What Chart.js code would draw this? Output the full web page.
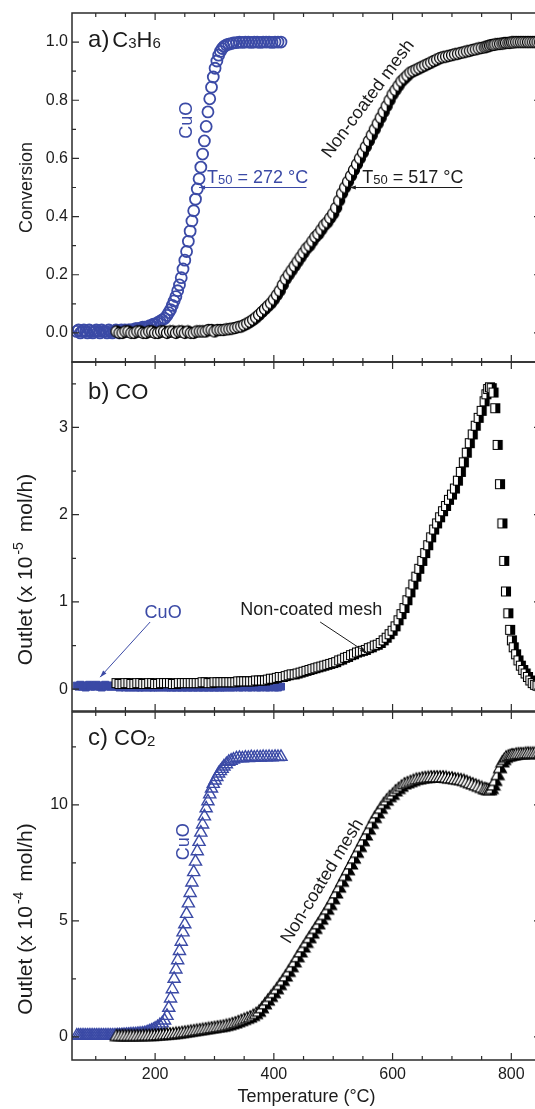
<!DOCTYPE html>
<html><head><meta charset="utf-8">
<script src="https://cdn.jsdelivr.net/npm/chart.js@4.4.1/dist/chart.umd.min.js"></script>
<style>
html,body{margin:0;padding:0;background:#fff;overflow:hidden;width:535px;height:1109px;position:relative;}
canvas{position:absolute;left:0;}
</style></head><body>
<canvas id="ca" width="560" height="395" style="top:-10px"></canvas>
<canvas id="cb" width="560" height="395" style="top:339px"></canvas>
<canvas id="cc" width="560" height="420" style="top:689px"></canvas>
<script>
// ---------- data ----------
const tempCuO = [
 68,71,74,77,80,83,86,89,92,95,
 98,101,104,107,110,113,116,119,122,125,
 128,131,134,137,140,143,146,149,152,155,
 158,161,164,167,170,173,176,179,182,185,
 188,191,194,197,200,204,208,212,216,220,
 223,226,229,232,235,238,241,244,247,250,
 253,256,259,262,265,268,271,274,277,280,
 283,286,289,292,295,298,301,304,307,310,
 313,316,320,324,328,332,337,342,347,352,
 357,362,367,372,377,382,387,392,397,402,
 407,412];
const tempMesh = [
 135,140,145,150,155,160,165,170,175,180,
 185,190,195,200,205,210,215,220,225,230,
 235,240,245,250,255,260,265,270,275,280,
 285,290,295,300,305,310,315,320,325,330,
 335,340,345,350,355,360,365,370,375,380,
 385,390,395,400,405,410,415,420,425,430,
 435,440,445,450,455,460,465,470,475,480,
 485,490,495,500,505,510,515,520,525,530,
 535,540,545,550,555,560,565,570,575,580,
 585,590,595,600,605,610,615,620,625,630,
 635,640,645,650,655,660,665,670,675,680,
 685,690,695,700,705,710,715,720,725,730,
 735,740,745,750,755,758,761,764,767,770,
 773,777,781,785,788,791,795,798,801,804,
 808,812,816,820,824,828,832,836,840,844,
 848];
// a) C3H6 conversion
const convCuO = [
 0.005,0.01,0,0.005,0.01,0.005,0,0.01,0.005,0,
 0.005,0.01,0.005,0,0.01,0.005,0.005,0,0.01,0.005,
 0,0.005,0.01,0.005,0,0.01,0.005,0.01,0.005,0.01,
 0.01,0.01,0.01,0.015,0.015,0.015,0.015,0.02,0.02,0.02,
 0.02,0.025,0.025,0.03,0.03,0.035,0.04,0.045,0.05,0.06,
 0.07,0.08,0.095,0.11,0.125,0.145,0.165,0.19,0.22,0.25,
 0.28,0.315,0.35,0.385,0.42,0.46,0.495,0.53,0.57,0.615,
 0.66,0.71,0.76,0.805,0.845,0.88,0.91,0.935,0.955,0.968,
 0.978,0.985,0.99,0.993,0.995,0.997,0.998,1.0,0.999,1.0,
 1.0,0.999,1.0,1.0,0.999,1.0,1.0,1.0,0.999,1.0,
 1.0,1.0];
const convMesh = [
 0.005,0,0,0.005,0.005,0,0,0.005,0.005,0,
 0,0.005,0.005,0,0,0.005,0.005,0,0.005,0.005,
 0,0.005,0.005,0,0.005,0,0,0.005,0.005,0.005,
 0.005,0.01,0.01,0.005,0.01,0.01,0.01,0.012,0.013,0.015,
 0.017,0.02,0.022,0.027,0.032,0.038,0.045,0.053,0.062,0.072,
 0.082,0.092,0.102,0.115,0.13,0.145,0.165,0.185,0.2,0.215,
 0.23,0.245,0.26,0.275,0.29,0.3,0.315,0.33,0.34,0.355,
 0.37,0.38,0.395,0.41,0.43,0.455,0.48,0.5,0.52,0.54,
 0.56,0.58,0.6,0.62,0.64,0.66,0.68,0.7,0.72,0.74,
 0.76,0.78,0.8,0.82,0.835,0.85,0.865,0.875,0.885,0.895,
 0.9,0.905,0.91,0.915,0.92,0.925,0.93,0.935,0.94,0.945,
 0.948,0.95,0.953,0.955,0.958,0.96,0.963,0.965,0.968,0.97,
 0.973,0.975,0.978,0.98,0.982,0.984,0.986,0.988,0.99,0.99,
 0.992,0.993,0.994,0.995,0.996,0.997,0.997,0.998,0.999,0.999,
 1.0,1.0,1.0,1.0,1.0,1.0,1.0,1.0,1.0,1.0,
 1.0];
// b) CO outlet (x 10^-5 mol/h)
const coCuO = [
 0.04,0.03,0.05,0.03,0.04,0.02,0.04,0.05,0.03,0.04,
 0.03,0.05,0.04,0.03,0.02,0.04,0.05,0.03,0.04,0.03,
 0.04,0.03,0.05,0.03,0.02,0.03,0.03,0.02,0.03,0.02,
 0.03,0.02,0.03,0.02,0.03,0.02,0.02,0.03,0.02,0.03,
 0.02,0.03,0.02,0.02,0.03,0.02,0.02,0.03,0.02,0.02,
 0.03,0.02,0.02,0.03,0.02,0.02,0.03,0.02,0.02,0.03,
 0.02,0.02,0.03,0.02,0.02,0.03,0.02,0.02,0.03,0.02,
 0.02,0.03,0.02,0.02,0.03,0.02,0.02,0.03,0.02,0.02,
 0.03,0.02,0.02,0.03,0.02,0.02,0.03,0.02,0.02,0.03,
 0.02,0.02,0.03,0.02,0.02,0.03,0.02,0.02,0.03,0.02,
 0.02,0.03];
const coMesh = [
 0.07,0.06,0.06,0.07,0.07,0.06,0.06,0.07,0.07,0.06,
 0.06,0.07,0.07,0.06,0.06,0.07,0.07,0.07,0.07,0.06,
 0.06,0.07,0.07,0.07,0.07,0.07,0.07,0.07,0.07,0.08,
 0.08,0.07,0.07,0.08,0.08,0.08,0.08,0.08,0.08,0.08,
 0.08,0.09,0.09,0.09,0.09,0.09,0.09,0.1,0.1,0.1,
 0.1,0.11,0.12,0.12,0.13,0.14,0.14,0.15,0.16,0.17,
 0.17,0.18,0.19,0.2,0.21,0.22,0.23,0.24,0.25,0.26,
 0.27,0.28,0.29,0.3,0.31,0.33,0.34,0.36,0.37,0.39,
 0.4,0.42,0.43,0.44,0.45,0.47,0.48,0.5,0.51,0.53,
 0.56,0.59,0.63,0.67,0.72,0.79,0.86,0.93,1.02,1.11,
 1.2,1.29,1.38,1.47,1.56,1.65,1.74,1.83,1.9,1.97,
 2.04,2.1,2.17,2.23,2.3,2.39,2.49,2.6,2.71,2.82,
 2.92,3.02,3.11,3.19,3.3,3.38,3.44,3.46,3.45,3.4,
 3.22,2.8,2.35,1.9,1.47,1.12,0.87,0.68,0.56,0.48,
 0.4,0.33,0.27,0.22,0.18,0.14,0.1,0.07,0.05,0.04,
 0.03];
// c) CO2 outlet (x 10^-4 mol/h)
const co2CuO = [
 0.05,0.05,0.05,0.05,0.05,0.05,0.05,0.05,0.05,0.05,
 0.05,0.05,0.05,0.05,0.05,0.05,0.05,0.05,0.05,0.05,
 0.05,0.05,0.05,0.06,0.06,0.06,0.07,0.07,0.08,0.08,
 0.09,0.09,0.1,0.1,0.11,0.12,0.13,0.14,0.15,0.17,
 0.2,0.23,0.26,0.3,0.35,0.42,0.5,0.58,0.7,0.9,
 1.25,1.65,2.05,2.5,2.9,3.3,3.7,4.1,4.5,4.85,
 5.3,5.75,6.2,6.65,7.1,7.55,8.0,8.4,8.8,9.15,
 9.5,9.85,10.15,10.45,10.7,10.9,11.05,11.2,11.35,11.45,
 11.55,11.65,11.75,11.85,11.9,11.95,12.0,12.02,12.0,12.03,
 12.02,12.05,12.03,12.05,12.04,12.06,12.05,12.06,12.05,12.07,
 12.06,12.07];
const co2Mesh = [
 0.05,0.05,0.05,0.05,0.05,0.05,0.05,0.05,0.05,0.06,
 0.06,0.06,0.06,0.07,0.08,0.09,0.1,0.11,0.12,0.13,
 0.15,0.16,0.18,0.2,0.22,0.24,0.26,0.28,0.3,0.32,
 0.34,0.36,0.38,0.4,0.42,0.44,0.46,0.49,0.52,0.56,
 0.6,0.65,0.7,0.75,0.8,0.85,0.92,1.0,1.1,1.25,
 1.42,1.58,1.74,1.9,2.07,2.25,2.43,2.62,2.82,3.02,
 3.23,3.45,3.66,3.87,4.07,4.27,4.47,4.67,4.87,5.07,
 5.27,5.5,5.7,5.95,6.2,6.45,6.7,6.95,7.2,7.45,
 7.7,7.95,8.2,8.45,8.7,8.95,9.2,9.45,9.65,9.85,
 10.05,10.2,10.35,10.45,10.6,10.7,10.8,10.9,10.95,11.0,
 11.05,11.1,11.12,11.15,11.17,11.18,11.2,11.2,11.2,11.2,
 11.2,11.18,11.15,11.15,11.12,11.1,11.08,11.05,11.0,10.95,
 10.9,10.85,10.8,10.75,10.7,10.68,10.65,10.65,10.7,10.85,
 11.05,11.3,11.6,11.85,11.95,12.05,12.1,12.12,12.15,12.15,
 12.18,12.2,12.2,12.2,12.22,12.22,12.22,12.22,12.22,12.22,
 12.22];
// ticks
const xTicks = [200,400,600,800];
const xMinor = [100,150,250,300,350,450,500,550,650,700,750,850];
const yTicksA = [0,0.2,0.4,0.6,0.8,1.0];
const yMinorA = [0.1,0.3,0.5,0.7,0.9];
const yTicksB = [0,1,2,3];
const yMinorB = [0.5,1.5,2.5,3.5];
const yTicksC = [0,5,10];
const yMinorC = [2.5,7.5,12.5];

// ---------- styles ----------
const FONT = "'Liberation Sans', Arial, Helvetica, sans-serif";
const BLUE = '#3b4aa6';
const INK = '#1c1c1c';
const AXC = '#2b2b2b';

function halfMarker(shape, size, lw) {
  const s = size + 3;
  const c = document.createElement('canvas');
  c.width = s; c.height = s;
  const g = c.getContext('2d');
  const cx = s / 2, cy = s / 2, r = size / 2;
  const path = () => {
    g.beginPath();
    if (shape === 'circle') g.arc(cx, cy, r, 0, Math.PI * 2);
    else if (shape === 'square') g.rect(cx - r, cy - r, size, size);
    else { g.moveTo(cx, cy - r); g.lineTo(cx + r, cy + r * 0.75); g.lineTo(cx - r, cy + r * 0.75); g.closePath(); }
  };
  path(); g.fillStyle = '#fff'; g.fill();
  g.save(); path(); g.clip(); g.fillStyle = '#000'; g.fillRect(cx, 0, s, s); g.restore();
  path(); g.lineWidth = lw || 1; g.strokeStyle = '#000'; g.stroke();
  return c;
}
const mkCircle = halfMarker('circle', 11, 1.3);
const mkSquare = halfMarker('square', 9, 1.1);
const mkTri = halfMarker('tri', 13, 1.1);

function pts(xs, ys) { return xs.map((x, i) => ({ x: x, y: ys[i] })); }

function rich(ctx, x, y, segs, o) {
  o = o || {};
  ctx.save();
  ctx.translate(x, y);
  if (o.rot) ctx.rotate(o.rot);
  ctx.fillStyle = o.color || INK;
  ctx.textBaseline = 'alphabetic';
  ctx.textAlign = 'left';
  let w = 0;
  segs.forEach(s => { ctx.font = s[1] + 'px ' + FONT; w += ctx.measureText(s[0]).width + (s[3] || 0); });
  let cx = o.align === 'center' ? -w / 2 : 0;
  const dy0 = o.middle || 0;
  segs.forEach(s => {
    ctx.font = s[1] + 'px ' + FONT;
    ctx.fillText(s[0], cx, (s[2] || 0) + dy0);
    cx += ctx.measureText(s[0]).width + (s[3] || 0);
  });
  ctx.restore();
}
function arrow(ctx, x1, y1, x2, y2, color, head, lw) {
  head = head || 7;
  ctx.save();
  ctx.strokeStyle = color; ctx.fillStyle = color; ctx.lineWidth = lw || 1;
  ctx.beginPath(); ctx.moveTo(x1, y1); ctx.lineTo(x2, y2); ctx.stroke();
  const a = Math.atan2(y2 - y1, x2 - x1), w = head * 0.32;
  const bx = x2 - head * Math.cos(a), by = y2 - head * Math.sin(a);
  ctx.beginPath(); ctx.moveTo(x2, y2);
  ctx.lineTo(bx + w * Math.sin(a), by - w * Math.cos(a));
  ctx.lineTo(bx - w * Math.sin(a), by + w * Math.cos(a));
  ctx.closePath(); ctx.fill();
  ctx.restore();
}

const framePlugin = {
  id: 'frame',
  afterDatasetsDraw(chart, args, o) {
    const { ctx, chartArea: a } = chart;
    const xs = chart.scales.x, ys = chart.scales.y;
    ctx.save();
    ctx.strokeStyle = AXC;
    ctx.lineWidth = 1.2;
    ctx.beginPath();
    const L = 7, S = 4;
    const vx = (vals, len) => vals.forEach(v => {
      const p = xs.getPixelForValue(v);
      ctx.moveTo(p, a.bottom); ctx.lineTo(p, a.bottom - len);
      ctx.moveTo(p, a.top); ctx.lineTo(p, a.top + len);
    });
    const vy = (vals, len) => vals.forEach(v => {
      const p = ys.getPixelForValue(v);
      ctx.moveTo(a.left, p); ctx.lineTo(a.left + len, p);
      ctx.moveTo(a.right, p); ctx.lineTo(a.right - len, p);
    });
    vx(xTicks, L); vx(xMinor, S); vy(o.yMajor, L); vy(o.yMinor, S);
    ctx.stroke();
    ctx.lineWidth = 1.5;
    ctx.strokeRect(a.left, a.top, a.right - a.left, a.bottom - a.top);
    ctx.restore();
  }
};

function build(id, p) {
  return new Chart(document.getElementById(id), {
    type: 'scatter',
    data: { datasets: p.datasets },
    options: {
      responsive: false, animation: false, devicePixelRatio: 1, events: [],
      layout: { padding: p.padding },
      plugins: { legend: { display: false }, tooltip: { enabled: false },
                 frame: { yMajor: p.yMajor, yMinor: p.yMinor } },
      scales: {
        x: {
          type: 'linear', min: 60, max: 850, display: p.showX,
          grid: { display: false, drawTicks: false }, border: { display: false },
          afterBuildTicks: s => { s.ticks = xTicks.map(v => ({ value: v })); },
          ticks: { font: { family: FONT, size: 16 }, color: INK, padding: 5, maxRotation: 0, autoSkip: false },
          title: { display: p.showX, text: 'Temperature (°C)', font: { family: FONT, size: 18 }, color: INK, padding: { top: 0, bottom: 1 } },
          afterFit: s => { if (p.showX) s.height = 49; }
        },
        y: {
          type: 'linear', min: p.yMin, max: p.yMax,
          grid: { display: false, drawTicks: false }, border: { display: false },
          afterBuildTicks: s => { s.ticks = p.yMajor.map(v => ({ value: v })); },
          ticks: { font: { family: FONT, size: 16 }, color: INK, padding: 4, autoSkip: false, callback: p.fmt },
          afterFit: s => { s.width = 72; }
        }
      }
    },
    plugins: [framePlugin, { id: 'ann', afterDraw: chart => p.draw(chart) }]
  });
}

function helpers(chart) {
  const X = v => chart.scales.x.getPixelForValue(v);
  const Y = v => chart.scales.y.getPixelForValue(v);
  return { X, Y, ctx: chart.ctx, a: chart.chartArea };
}
const ROT_CUO = -Math.PI / 2;

// ---------- panel a ----------
build('ca', {
  padding: { top: 23, bottom: 23, left: 0, right: 19 },
  showX: false, yMin: -0.1, yMax: 1.1, yMajor: yTicksA, yMinor: yMinorA,
  fmt: v => Number(v).toFixed(1),
  datasets: [
    { label: 'Non-coated mesh', data: pts(tempMesh, convMesh), pointStyle: mkCircle, pointRadius: 5 },
    { label: 'CuO', data: pts(tempCuO, convCuO), pointStyle: 'circle', pointRadius: 5.5,
      borderColor: BLUE, backgroundColor: 'rgba(0,0,0,0)', pointBorderWidth: 1.8 }
  ],
  draw(chart) {
    const { X, Y, ctx, a } = helpers(chart);
    rich(ctx, 32, (a.top + a.bottom) / 2, [['Conversion', 18]], { rot: -Math.PI / 2, align: 'center' });
    rich(ctx, X(87), Y(0.983), [['a)', 24, 0, 3], ['C', 22], ['3', 15, 1], ['H', 22], ['6', 15, 1]]);
    rich(ctx, X(250.6), Y(0.731), [['CuO', 18]], { rot: ROT_CUO, align: 'center', middle: 6.5, color: BLUE });
    rich(ctx, X(287.6), Y(0.514), [['T', 18], ['50', 13, 1], [' = 272 °C', 18]], { color: BLUE });
    arrow(ctx, X(455), Y(0.5), X(274), Y(0.5), BLUE, 6, 1.2);
    rich(ctx, X(549), Y(0.514), [['T', 18], ['50', 13, 1], [' = 517 °C', 18]]);
    arrow(ctx, X(717), Y(0.5), X(528), Y(0.5), INK, 6, 1.2);
    rich(ctx, X(557), Y(0.807), [['Non-coated mesh', 18]], { rot: -53.4 * Math.PI / 180, align: 'center', middle: 6.5 });
  }
});

// ---------- panel b ----------
build('cb', {
  padding: { top: 23, bottom: 23, left: 0, right: 19 },
  showX: false, yMin: -0.25, yMax: 3.75, yMajor: yTicksB, yMinor: yMinorB,
  fmt: v => String(v),
  datasets: [
    { label: 'Non-coated mesh', data: pts(tempMesh, coMesh), pointStyle: mkSquare, pointRadius: 5 },
    { label: 'CuO', data: pts(tempCuO, coCuO), pointStyle: 'rect', pointRadius: 5,
      borderColor: BLUE, backgroundColor: BLUE, pointBorderWidth: 1 }
  ],
  draw(chart) {
    const { X, Y, ctx, a } = helpers(chart);
    rich(ctx, 32, (a.top + a.bottom) / 2 + 33,
      [['Outlet (x 10', 21, 0, 2], ['-5', 14, -9, 10], ['mol/h)', 21]], { rot: -Math.PI / 2, align: 'center' });
    rich(ctx, X(87), Y(3.33), [['b)', 24, 0, 6], ['CO', 22]]);
    rich(ctx, X(213.5), Y(0.816), [['CuO', 18]], { align: 'center', color: BLUE });
    arrow(ctx, X(191.6), Y(0.77), X(107.3), Y(0.138), BLUE, 7, 1);
    rich(ctx, X(463), Y(0.85), [['Non-coated mesh', 18]], { align: 'center' });
    arrow(ctx, X(478), Y(0.77), X(557), Y(0.414), INK, 7, 1);
  }
});

// ---------- panel c ----------
build('cc', {
  padding: { top: 23, bottom: 0, left: 0, right: 19 },
  showX: true, yMin: -1, yMax: 14, yMajor: yTicksC, yMinor: yMinorC,
  fmt: v => String(v),
  datasets: [
    { label: 'Non-coated mesh', data: pts(tempMesh, co2Mesh), pointStyle: mkTri, pointRadius: 6 },
    { label: 'CuO', data: pts(tempCuO, co2CuO), pointStyle: 'triangle', pointRadius: 7,
      borderColor: BLUE, backgroundColor: 'rgba(0,0,0,0)', pointBorderWidth: 1.4 }
  ],
  draw(chart) {
    const { X, Y, ctx, a } = helpers(chart);
    rich(ctx, 32, (a.top + a.bottom) / 2 + 33,
      [['Outlet (x 10', 21, 0, 2], ['-4', 14, -9, 10], ['mol/h)', 21]], { rot: -Math.PI / 2, align: 'center' });
    rich(ctx, X(87), Y(12.58), [['c)', 24, 0, 6], ['CO', 22], ['2', 15, 1]]);
    rich(ctx, X(245.5), Y(8.41), [['CuO', 18]], { rot: ROT_CUO, align: 'center', middle: 6.5, color: BLUE });
    rich(ctx, X(479.8), Y(6.74), [['Non-coated mesh', 18]], { rot: -58.7 * Math.PI / 180, align: 'center', middle: 6.5 });
  }
});
</script>
</body></html>
